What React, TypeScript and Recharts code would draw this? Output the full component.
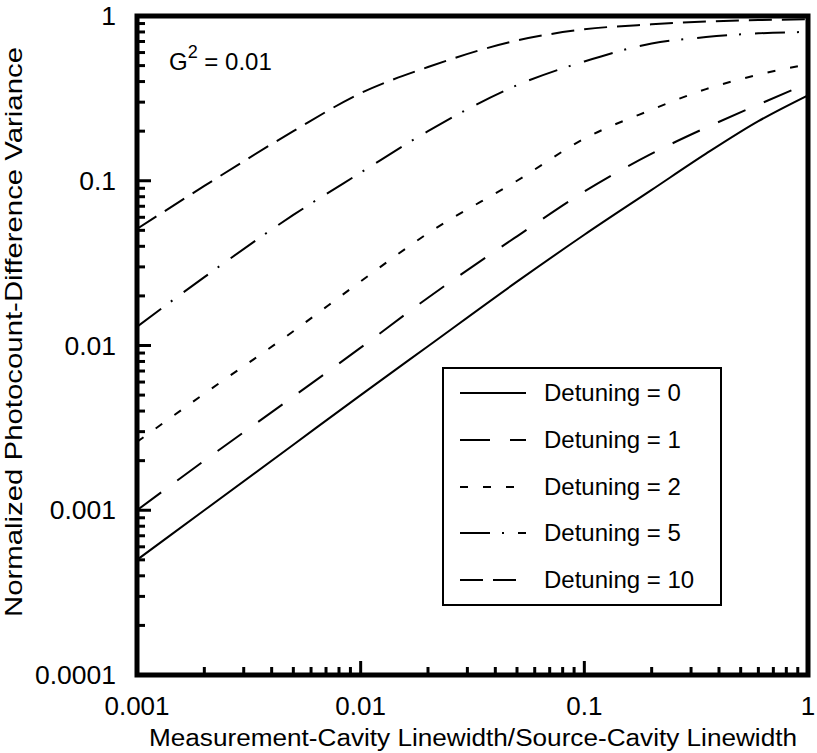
import React from 'react';
import { LineChart, Line, XAxis, YAxis, ReferenceArea, Legend, Label } from 'recharts';

const FONT = '"Liberation Sans", Arial, Helvetica, sans-serif';

// x: measurement-cavity linewidth / source-cavity linewidth
const xValues = [0.001, 0.002, 0.005, 0.01, 0.02, 0.05, 0.1, 0.2, 0.35, 0.6, 1];
// normalized photocount-difference variance
const detuning0 = [0.0005, 0.001, 0.0025, 0.005, 0.0099, 0.0244, 0.047, 0.088, 0.146, 0.23, 0.33];
const detuning1 = [0.001, 0.002, 0.0049, 0.0097, 0.0195, 0.046, 0.086, 0.146, 0.21, 0.29, 0.39];
const detuning2 = [0.0026, 0.0051, 0.0122, 0.0245, 0.048, 0.1, 0.18, 0.27, 0.36, 0.44, 0.51];
const detuning5 = [0.013, 0.026, 0.062, 0.112, 0.2, 0.38, 0.53, 0.68, 0.745, 0.785, 0.8];
const detuning10 = [0.051, 0.093, 0.2, 0.34, 0.49, 0.71, 0.83, 0.89, 0.925, 0.945, 0.955];

const seriesKeys = ['d0', 'd1', 'd2', 'd5', 'd10'];
const seriesNames = ['Detuning = 0', 'Detuning = 1', 'Detuning = 2', 'Detuning = 5', 'Detuning = 10'];
const seriesDash = ['', '30 20', '8 15', '30 12 2 14', '23 10'];

const xMajorTicks = [0.001, 0.01, 0.1, 1];
const xTickLabels = ['0.001', '0.01', '0.1', '1'];
const xAllTicks = [
  0.001, 0.002, 0.003, 0.004, 0.005, 0.006, 0.007, 0.008, 0.009,
  0.01, 0.02, 0.03, 0.04, 0.05, 0.06, 0.07, 0.08, 0.09,
  0.1, 0.2, 0.3, 0.4, 0.5, 0.6, 0.7, 0.8, 0.9, 1,
];
const yMajorTicks = [0.0001, 0.001, 0.01, 0.1, 1];
const yTickLabels = ['0.0001', '0.001', '0.01', '0.1', '1'];
const yAllTicks = [
  0.0001, 0.0002, 0.0003, 0.0004, 0.0005, 0.0006, 0.0007, 0.0008, 0.0009,
  0.001, 0.002, 0.003, 0.004, 0.005, 0.006, 0.007, 0.008, 0.009,
  0.01, 0.02, 0.03, 0.04, 0.05, 0.06, 0.07, 0.08, 0.09,
  0.1, 0.2, 0.3, 0.4, 0.5, 0.6, 0.7, 0.8, 0.9, 1,
];

const seriesValues = [detuning0, detuning1, detuning2, detuning5, detuning10];
const rows = xValues.map((x, i) => {
  const r: Record<string, number> = { x };
  seriesKeys.forEach((k, s) => {
    r[k] = seriesValues[s][i];
  });
  return r;
});

const XTick = (props: any) => {
  const { x, y, payload } = props;
  const idx = xMajorTicks.indexOf(payload.value);
  const len = idx >= 0 ? 14 : 8;
  return (
    <g>
      <line x1={x} x2={x} y1={y} y2={y - len} stroke="#000" strokeWidth={3} />
      {idx >= 0 && (
        <text x={x} y={y + 40} textAnchor="middle" fontSize={26} fontFamily={FONT} fill="#000">
          {xTickLabels[idx]}
        </text>
      )}
    </g>
  );
};

const YTick = (props: any) => {
  const { x, y, payload } = props;
  const idx = yMajorTicks.indexOf(payload.value);
  const len = idx >= 0 ? 14 : 8;
  return (
    <g>
      <line x1={x} x2={x + len} y1={y} y2={y} stroke="#000" strokeWidth={3} />
      {idx >= 0 && (
        <text x={x - 21} y={y} dy={9} textAnchor="end" fontSize={26.5} fontFamily={FONT} fill="#000">
          {yTickLabels[idx]}
        </text>
      )}
    </g>
  );
};

const renderLegend = () => (
  <div
    style={{
      width: 280,
      height: 239,
      boxSizing: 'border-box',
      border: '2px solid #000',
      background: '#fff',
      position: 'relative',
      fontFamily: FONT,
    }}
  >
    {seriesNames.map((name, i) => (
      <div
        key={name}
        style={{
          position: 'absolute',
          left: 0,
          top: 24 + i * 46.8 - 16,
          height: 32,
          width: 276,
          display: 'flex',
          alignItems: 'center',
        }}
      >
        <svg width={100} height={32} style={{ display: 'block' }}>
          <line
            x1={16}
            x2={82}
            y1={16}
            y2={16}
            stroke="#000"
            strokeWidth={2}
            strokeDasharray={seriesDash[i] || undefined}
          />
        </svg>
        <span style={{ fontSize: 24, color: '#000', lineHeight: '32px', whiteSpace: 'nowrap' }}>{name}</span>
      </div>
    ))}
  </div>
);

const G2Label = (props: any) => {
  const vb = props.viewBox || { x: 137, y: 16 };
  return (
    <text x={vb.x + 32} y={vb.y + 54} fontSize={24} fontFamily={FONT} fill="#000">
      G
      <tspan fontSize={18} dy={-12}>2</tspan>
      <tspan fontSize={24} dy={12}> = 0.01</tspan>
    </text>
  );
};

export default function App() {
  return (
    <div style={{ position: 'absolute', left: 0, top: 0, background: '#fff' }}>
      <LineChart width={817} height={753} data={rows} margin={{ top: 16, right: 9, left: 0, bottom: 0 }}>
        <XAxis
          dataKey="x"
          type="number"
          scale="log"
          domain={[0.001, 1]}
          ticks={xAllTicks}
          interval={0}
          tick={(p: any) => <XTick {...p} />}
          tickLine={false}
          axisLine={false}
          tickSize={0}
          tickMargin={0}
          height={78}
          allowDataOverflow
        >
          <Label
            content={() => (
              <text
                x={473}
                y={746}
                textAnchor="middle"
                fontSize={23}
                fontFamily={FONT}
                fill="#000"
                textLength={648}
                lengthAdjust="spacingAndGlyphs"
              >
                Measurement-Cavity Linewidth/Source-Cavity Linewidth
              </text>
            )}
          />
        </XAxis>
        <YAxis
          type="number"
          scale="log"
          domain={[0.0001, 1]}
          ticks={yAllTicks}
          interval={0}
          tick={(p: any) => <YTick {...p} />}
          tickLine={false}
          axisLine={false}
          tickSize={0}
          tickMargin={0}
          width={137}
          allowDataOverflow
        >
          <Label
            content={() => (
              <text
                transform="translate(22, 332) rotate(-90)"
                textAnchor="middle"
                fontSize={24}
                fontFamily={FONT}
                fill="#000"
                textLength={570}
                lengthAdjust="spacingAndGlyphs"
              >
                Normalized Photocount-Difference Variance
              </text>
            )}
          />
        </YAxis>
        {seriesKeys.map((k, i) => (
          <Line
            key={k}
            dataKey={k}
            name={seriesNames[i]}
            type="monotone"
            stroke="#000"
            strokeWidth={2}
            strokeDasharray={seriesDash[i] || undefined}
            dot={false}
            activeDot={false}
            isAnimationActive={false}
          />
        ))}
        <ReferenceArea
          x1={0.001}
          x2={1}
          y1={0.0001}
          y2={1}
          fill="none"
          fillOpacity={0}
          stroke="#000"
          strokeWidth={5}
          ifOverflow="visible"
          label={<G2Label />}
        />
        <Legend
          content={renderLegend}
          layout="horizontal"
          verticalAlign="middle"
          align="center"
          wrapperStyle={{ position: 'absolute', left: 442, top: 367, width: 280, height: 239 }}
        />
      </LineChart>
    </div>
  );
}
